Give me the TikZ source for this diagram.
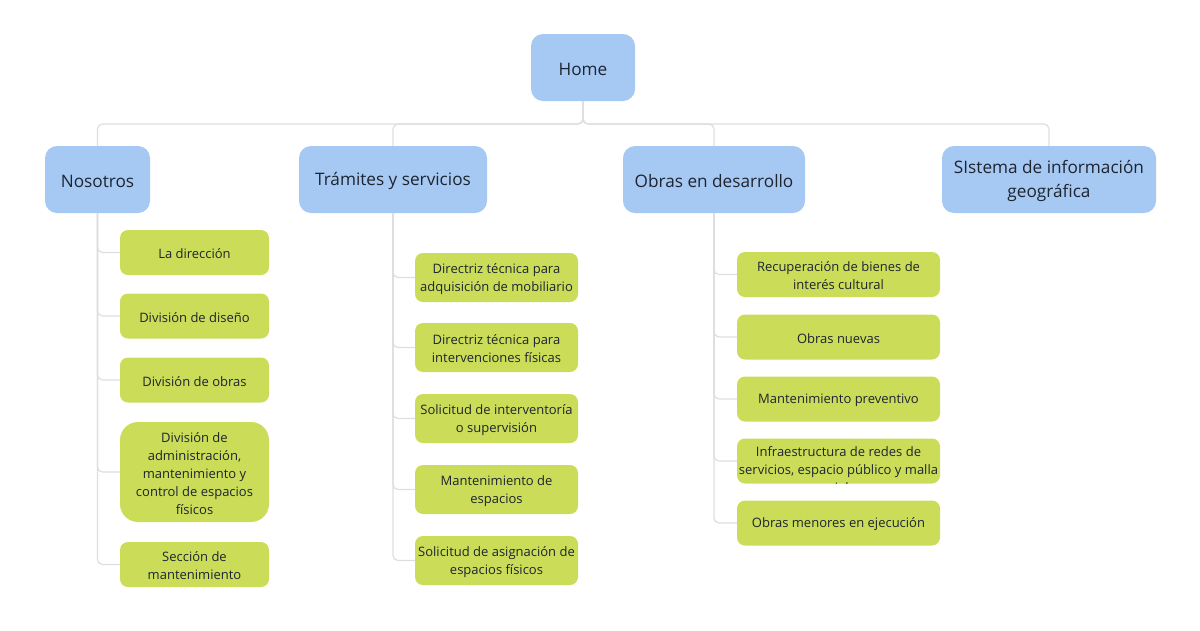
\documentclass[tikz,border=0pt]{standalone}
\usepackage{fontspec}
\setmainfont{Open Sans}
\definecolor{bluebox}{HTML}{A6C9F4}
\definecolor{greenbox}{HTML}{CBDD58}
\definecolor{conncol}{HTML}{DEDEDE}
\definecolor{txtcol}{HTML}{1E2430}
% \tbox{style}{name}{x}{y}{width}{height}{text}
\newcommand\tbox[7]{%
  \node[#1box,minimum width=#5pt,minimum height=#6pt] (#2) at (#3,#4) {};
  \node[#1txt] (#2-t) at ([yshift=-1.5pt]#2.center) {#7};
}
\begin{document}
\begin{tikzpicture}[x=1pt,y=-1pt,
  topicbox/.style={fill=bluebox,rounded corners=12pt,inner sep=0pt},
  topictxt/.style={inner sep=0pt,align=center,font=\fontsize{17.2}{24}\selectfont,text=txtcol},
  subbox/.style={fill=greenbox,rounded corners=8pt,inner sep=0pt},
  bigsubbox/.style={subbox,rounded corners=18pt},
  subtxt/.style={inner sep=0pt,align=center,font=\fontsize{13}{18}\selectfont,text=txtcol},
  bigsubtxt/.style={subtxt},
  conn/.style={draw=conncol,line width=1.2pt,rounded corners=5pt}]
\useasboundingbox (0,0) rectangle (1200,630);
% main level
\tbox{topic}{home}{583}{67.5}{104}{67}{Home}
\tbox{topic}{nos}{97.5}{179.5}{105}{67}{Nosotros}
\tbox{topic}{tra}{393}{179.5}{188}{67}{Trámites y servicios}
\tbox{topic}{obr}{714}{179.5}{182}{67}{Obras en desarrollo}
\tbox{topic}{sig}{1049}{179.5}{214}{67}{SIstema de información\\geográfica}
% Nosotros children
\tbox{sub}{n1}{194.5}{252.5}{149}{45}{La dirección}
\tbox{sub}{n2}{194.5}{316}{149}{45}{División de diseño}
\tbox{sub}{n3}{194.5}{380}{149}{45}{División de obras}
\tbox{bigsub}{n4}{194.5}{472}{149}{100}{División de\\administración,\\mantenimiento y\\control de espacios\\físicos}
\tbox{sub}{n5}{194.5}{564.5}{149}{45}{Sección de\\mantenimiento}
% Tramites children
\tbox{sub}{t1}{496.5}{277.5}{163}{49}{Directriz técnica para\\adquisición de mobiliario}
\tbox{sub}{t2}{496.5}{347.5}{163}{49}{Directriz técnica para\\intervenciones físicas}
\tbox{sub}{t3}{496.5}{418.5}{163}{49}{Solicitud de interventoría\\o supervisión}
\tbox{sub}{t4}{496.5}{489.5}{163}{49}{Mantenimiento de\\espacios}
\tbox{sub}{t5}{496.5}{560.5}{163}{49}{Solicitud de asignación de\\espacios físicos}
% Obras children
\tbox{sub}{o1}{838.5}{274.5}{203}{45}{Recuperación de bienes de\\interés cultural}
\tbox{sub}{o2}{838.5}{337}{203}{45}{Obras nuevas}
\tbox{sub}{o3}{838.5}{399}{203}{45}{Mantenimiento preventivo}
\node[subbox,minimum width=203pt,minimum height=45pt] (o4) at (838.5,461) {};
\begin{scope}
\clip[rounded corners=8pt] (o4.south west) rectangle (o4.north east);
\node[subtxt] (o4-t) at (838.5,469.5) {Infraestructura de redes de\\servicios, espacio público y malla\\vial};
\end{scope}
\tbox{sub}{o5}{838.5}{523}{203}{45}{Obras menores en ejecución}
% connectors
\coordinate (bus) at (583,124);
\foreach \c in {nos,tra,obr,sig}{
  \draw[conn] (home.south) -- (bus) -| (\c.north);
}
\foreach \c in {n1,n2,n3,n4,n5}{\draw[conn] (nos.south) |- (\c.west);}
\foreach \c in {t1,t2,t3,t4,t5}{\draw[conn] (tra.south) |- (\c.west);}
\foreach \c in {o1,o2,o3,o4,o5}{\draw[conn] (obr.south) |- (\c.west);}
\end{tikzpicture}
\end{document}
